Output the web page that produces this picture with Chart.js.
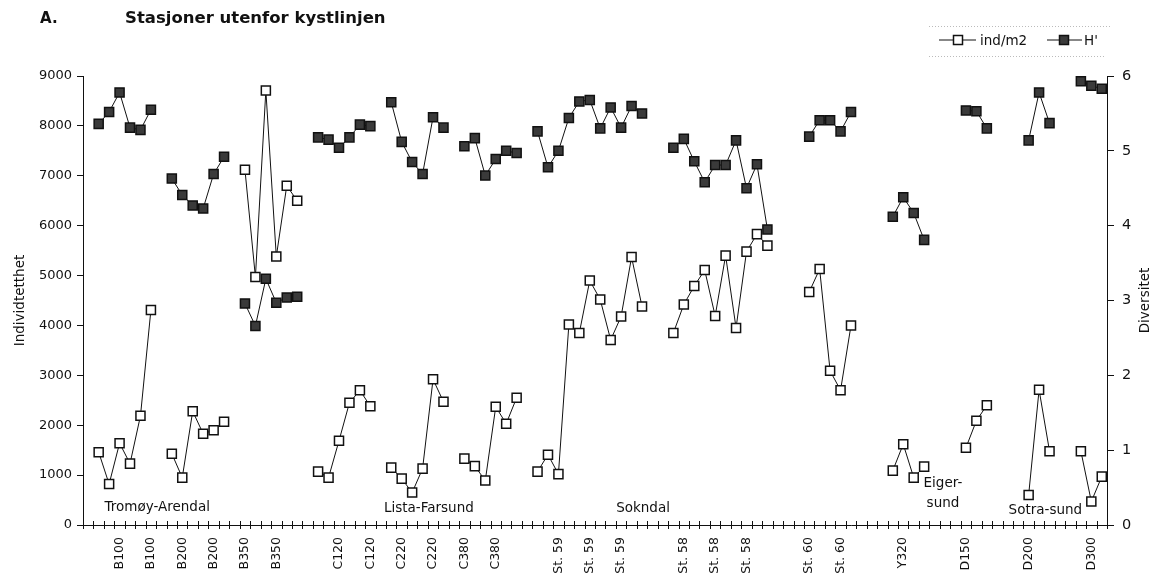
<!DOCTYPE html>
<html>
<head>
<meta charset="utf-8">
<script src="https://cdn.jsdelivr.net/npm/chart.js@4.4.1/dist/chart.umd.min.js"></script>
<style>
  body { margin: 0; background: #fff; }
  #wrap { width: 1154px; height: 576px; }
</style>
</head>
<body>
<div id="wrap"><canvas id="chart" width="1154" height="576"></canvas></div>
<script>
// one entry per category slot on the x axis, '' = empty slot between station groups
const stations = [
  '',
  'B100', 'B100', 'B100', 'B100', 'B100', 'B100', '',
  'B200', 'B200', 'B200', 'B200', 'B200', 'B200', '',
  'B350', 'B350', 'B350', 'B350', 'B350', 'B350', '',
  'C120', 'C120', 'C120', 'C120', 'C120', 'C120', '',
  'C220', 'C220', 'C220', 'C220', 'C220', 'C220', '',
  'C380', 'C380', 'C380', 'C380', 'C380', 'C380', '',
  'St. 59', 'St. 59', 'St. 59', 'St. 59', 'St. 59', 'St. 59', 'St. 59', 'St. 59', 'St. 59', 'St. 59', 'St. 59', '', '',
  'St. 58', 'St. 58', 'St. 58', 'St. 58', 'St. 58', 'St. 58', 'St. 58', 'St. 58', 'St. 58', 'St. 58', '', '', '',
  'St. 60', 'St. 60', 'St. 60', 'St. 60', 'St. 60', '', '', '',
  'Y320', 'Y320', 'Y320', 'Y320', '', '', '',
  'D150', 'D150', 'D150', '', '', '',
  'D200', 'D200', 'D200', '', '',
  'D300', 'D300', 'D300'
];

// individtetthet (ind/m2)
const indM2 = [
  null,
  1460, 820, 1640, 1230, 2190, 4310, null,
  1430, 950, 2280, 1830, 1900, 2070, null,
  7120, 4970, 8710, 5380, 6800, 6500, null,
  1070, 950, 1690, 2450, 2700, 2380, null,
  1150, 930, 650, 1130, 2920, 2470, null,
  1330, 1180, 890, 2370, 2030, 2550, null,
  1070, 1410, 1020, 4020, 3850, 4900, 4520, 3710, 4180, 5370, 4380, null, null,
  3850, 4420, 4790, 5110, 4190, 5400, 3950, 5480, 5830, 5600, null, null, null,
  4670, 5130, 3090, 2700, 4000, null, null, null,
  1090, 1620, 950, 1170, null, null, null,
  1550, 2090, 2400, null, null, null,
  600, 2710, 1480, null, null,
  1480, 470, 970
];

// diversitet (H')
const hDiv = [
  null,
  5.36, 5.52, 5.78, 5.31, 5.28, 5.55, null,
  4.63, 4.41, 4.27, 4.23, 4.69, 4.92, null,
  2.96, 2.66, 3.29, 2.97, 3.04, 3.05, null,
  5.18, 5.15, 5.04, 5.18, 5.35, 5.33, null,
  5.65, 5.12, 4.85, 4.69, 5.45, 5.31, null,
  5.06, 5.17, 4.67, 4.89, 5.00, 4.97, null,
  5.26, 4.78, 5.00, 5.44, 5.66, 5.68, 5.30, 5.58, 5.31, 5.60, 5.50, null, null,
  5.04, 5.16, 4.86, 4.58, 4.81, 4.81, 5.14, 4.50, 4.82, 3.95, null, null, null,
  5.19, 5.41, 5.41, 5.26, 5.52, null, null, null,
  4.12, 4.38, 4.17, 3.81, null, null, null,
  5.54, 5.53, 5.30, null, null, null,
  5.14, 5.78, 5.37, null, null,
  5.93, 5.87, 5.83
];

// area names written inside the plot (category slot, left-axis value)
const areaLabels = [
  { text: ['Tromøy-Arendal'], cat: 6.6, val: 360 },
  { text: ['Lista-Farsund'], cat: 32.6, val: 340 },
  { text: ['Sokndal'], cat: 53.1, val: 340 },
  { text: ['Eiger-', 'sund'], cat: 81.8, val: 640 },
  { text: ['Sotra-sund'], cat: 91.6, val: 290 }
];

const FONT = "'DejaVu Sans', sans-serif";
const INK = '#111';
const FILL_DARK = '#3a3a3a';

Chart.defaults.font.family = FONT;
Chart.defaults.color = INK;

function drawSquare(ctx, cx, cy, fill) {
  ctx.fillStyle = fill;
  ctx.strokeStyle = INK;
  ctx.lineWidth = 1.5;
  ctx.fillRect(cx - 4.5, cy - 4.5, 9, 9);
  ctx.strokeRect(cx - 4.5, cy - 4.5, 9, 9);
}

const decor = {
  id: 'decor',
  afterDraw(chart) {
    const { ctx, chartArea } = chart;
    const x = chart.scales.x;
    const y = chart.scales.y;
    ctx.save();

    // "+" shaped ticks on the category axis
    const n = stations.length;
    const step = (x.right - x.left) / n;
    ctx.strokeStyle = INK;
    ctx.lineWidth = 1;
    ctx.beginPath();
    for (let i = 0; i <= n; i++) {
      const px = Math.round(x.left + i * step) + 0.5;
      ctx.moveTo(px, chartArea.bottom - 4);
      ctx.lineTo(px, chartArea.bottom + 4);
    }
    ctx.stroke();

    // area names
    ctx.fillStyle = INK;
    ctx.font = '13.5px ' + FONT;
    ctx.textAlign = 'center';
    ctx.textBaseline = 'middle';
    areaLabels.forEach(a => {
      const px = x.left + (a.cat + 0.5) * step;
      const py = y.getPixelForValue(a.val);
      a.text.forEach((t, k) => {
        ctx.fillText(t, px, py - (a.text.length - 1) * 10 + k * 20);
      });
    });

    // axis titles, both read bottom to top
    const midY = (chartArea.top + chartArea.bottom) / 2;
    [['Individtetthet', 20], ['Diversitet', 1145]].forEach(([t, px]) => {
      ctx.save();
      ctx.translate(px, midY);
      ctx.rotate(-Math.PI / 2);
      ctx.fillText(t, 0, 0);
      ctx.restore();
    });

    // heading
    ctx.textAlign = 'left';
    ctx.font = 'bold 15px ' + FONT;
    ctx.fillText('A.', 40, 19);
    ctx.save();
    ctx.translate(125, 19);
    ctx.scale(1.1, 1);
    ctx.fillText('Stasjoner utenfor kystlinjen', 0, 0);
    ctx.restore();

    // legend box
    ctx.strokeStyle = '#bbb';
    ctx.lineWidth = 1;
    ctx.setLineDash([1, 2]);
    ctx.beginPath();
    ctx.moveTo(929, 26.5); ctx.lineTo(1110, 26.5);
    ctx.moveTo(929, 56.5); ctx.lineTo(1106, 56.5);
    ctx.stroke();
    ctx.setLineDash([]);

    const ly = 40;
    ctx.strokeStyle = INK;
    ctx.lineWidth = 1;
    ctx.beginPath();
    ctx.moveTo(939, ly); ctx.lineTo(976, ly);
    ctx.moveTo(1047, ly); ctx.lineTo(1082, ly);
    ctx.stroke();
    drawSquare(ctx, 958, ly, '#fff');
    drawSquare(ctx, 1064, ly, FILL_DARK);
    ctx.fillStyle = INK;
    ctx.font = '13.5px ' + FONT;
    ctx.fillText('ind/m2', 980, ly + 1);
    ctx.fillText("H'", 1084, ly + 1);

    ctx.restore();
  }
};

new Chart(document.getElementById('chart'), {
  type: 'line',
  data: {
    labels: stations,
    datasets: [
      {
        label: 'ind/m2',
        data: indM2,
        yAxisID: 'y',
        order: 1,
        borderColor: INK,
        borderWidth: 1,
        pointStyle: 'rect',
        pointRadius: 6.4,
        pointBorderWidth: 1.5,
        pointBackgroundColor: '#fff',
        pointBorderColor: INK,
        spanGaps: false,
        tension: 0
      },
      {
        label: "H'",
        data: hDiv,
        yAxisID: 'y2',
        order: 0,
        borderColor: INK,
        borderWidth: 1,
        pointStyle: 'rect',
        pointRadius: 6.4,
        pointBorderWidth: 1.5,
        pointBackgroundColor: FILL_DARK,
        pointBorderColor: INK,
        spanGaps: false,
        tension: 0
      }
    ]
  },
  options: {
    responsive: false,
    animation: false,
    clip: false,
    layout: { padding: { top: 76, left: 0, right: 0, bottom: 0 } },
    plugins: {
      legend: { display: false },
      tooltip: { enabled: false }
    },
    scales: {
      x: {
        type: 'category',
        offset: true,
        grid: { display: false },
        border: { color: INK, width: 1 },
        ticks: {
          autoSkip: false,
          minRotation: 90,
          maxRotation: 90,
          padding: 4,
          font: { size: 12.5 },
          color: INK,
          callback: (v, i) => (i % 3 === 0 ? stations[i] : '')
        },
        afterFit: s => { s.height = 51; }
      },
      y: {
        position: 'left',
        min: 0,
        max: 9000,
        ticks: { stepSize: 1000, padding: 5, font: { size: 13 }, color: INK, callback: v => String(v) },
        grid: { drawOnChartArea: false, tickLength: 6, color: INK },
        border: { color: INK, width: 1 },
        afterFit: s => { s.width = 83; }
      },
      y2: {
        position: 'right',
        min: 0,
        max: 6,
        ticks: { stepSize: 1, padding: 8, font: { size: 14.5 }, color: INK },
        grid: { drawOnChartArea: false, tickLength: 7, color: INK },
        border: { color: INK, width: 1 },
        afterFit: s => { s.width = 47; }
      }
    }
  },
  plugins: [decor]
});
</script>
</body>
</html>
